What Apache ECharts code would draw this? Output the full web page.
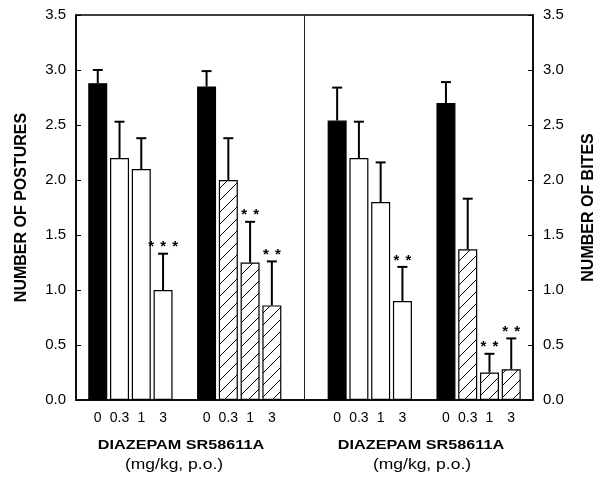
<!DOCTYPE html>
<html><head><meta charset="utf-8">
<script src="https://cdn.jsdelivr.net/npm/echarts@6/dist/echarts.min.js"></script>
<style>html,body{margin:0;padding:0;background:#fff}#c{width:599px;height:477px}</style>
</head><body><div id="c"></div>
<script>
// ---- data ----
const doses = ['0', '0.3', '1', '3'];
const yMin = 0, yMax = 3.5, yStep = 0.5;

const posturesDiazepam    = [2.88, 2.20, 2.10, 1.00];
const posturesDiazepamSem = [0.12, 0.33, 0.28, 0.33];
const posturesDiazepamSig = ['', '', '', '***'];

const posturesSR    = [2.85, 2.00, 1.25, 0.86];
const posturesSRSem = [0.14, 0.38, 0.37, 0.40];
const posturesSRSig = ['', '', '**', '**'];

const bitesDiazepam    = [2.54, 2.20, 1.80, 0.90];
const bitesDiazepamSem = [0.30, 0.33, 0.36, 0.31];
const bitesDiazepamSig = ['', '', '', '**'];

const bitesSR    = [2.70, 1.37, 0.25, 0.28];
const bitesSRSem = [0.19, 0.46, 0.17, 0.28];
const bitesSRSig = ['', '', '**', '**'];

const leftTitle = 'NUMBER OF POSTURES';
const rightTitle = 'NUMBER OF BITES';
const drugLabel = 'DIAZEPAM SR58611A';
const unitLabel = '(mg/kg, p.o.)';

// ---- build slots (spacers are empty categories) ----
const groups = [
  {kind: 'diazepam', m: posturesDiazepam, s: posturesDiazepamSem, sig: posturesDiazepamSig},
  {kind: 'sr', m: posturesSR, s: posturesSRSem, sig: posturesSRSig},
  {kind: 'diazepam', m: bitesDiazepam, s: bitesDiazepamSem, sig: bitesDiazepamSig},
  {kind: 'sr', m: bitesSR, s: bitesSRSem, sig: bitesSRSig}
];
const gapsBefore = [1, 1, 2, 1];
const gapsAfter = 1;
const panelBreakGroup = 2;

const labels = [], controlData = [], diazData = [], srData = [], errData = [];
let dividerSlots = [];
function pushGap() { labels.push(''); controlData.push('-'); diazData.push('-'); srData.push('-'); }
groups.forEach((g, gi) => {
  const startGap = labels.length;
  for (let k = 0; k < gapsBefore[gi]; k++) pushGap();
  if (gi === panelBreakGroup) dividerSlots = [startGap, labels.length - 1];
  g.m.forEach((v, i) => {
    const idx = labels.length;
    labels.push(doses[i]);
    controlData.push(i === 0 ? v : '-');
    diazData.push(i > 0 && g.kind === 'diazepam' ? v : '-');
    srData.push(i > 0 && g.kind === 'sr' ? v : '-');
    errData.push([idx, v, v + g.s[i], g.sig[i]]);
  });
});
for (let k = 0; k < gapsAfter; k++) pushGap();

// ---- hatch pattern ----
function makeHatch() {
  const c = document.createElement('canvas');
  c.width = 12; c.height = 12;
  const g = c.getContext('2d');
  g.fillStyle = '#fff'; g.fillRect(0, 0, 12, 12);
  g.strokeStyle = '#000'; g.lineWidth = 1;
  g.beginPath();
  g.moveTo(-12, 12); g.lineTo(0, 0);
  g.moveTo(0, 12); g.lineTo(12, 0);
  g.moveTo(12, 12); g.lineTo(24, 0);
  g.stroke();
  return c;
}

const FONT = '"Liberation Sans", Arial, Helvetica, sans-serif';
const chart = echarts.init(document.getElementById('c'), null, {renderer: 'canvas'});

const yAxisBase = {
  type: 'value', min: yMin, max: yMax, interval: yStep,
  axisLine: {show: true, lineStyle: {color: '#000', width: 1.5}},
  axisTick: {show: true, inside: true, length: 5, lineStyle: {color: '#000', width: 1}},
  axisLabel: {color: '#000', fontSize: 15, fontFamily: FONT, margin: 10, formatter: v => v.toFixed(1)},
  splitLine: {show: false}
};

const barBase = {type: 'bar', barWidth: 19, barGap: '-100%'};

chart.setOption({
  backgroundColor: '#fff',
  animation: false,
  grid: {left: 76, right: 66, top: 15, bottom: 77, show: true, borderColor: '#000', borderWidth: 1.5, containLabel: false},
  xAxis: {
    type: 'category', data: labels, boundaryGap: false,
    axisLine: {show: true, lineStyle: {color: '#000', width: 1.5}},
    axisTick: {show: false},
    axisLabel: {interval: 0, color: '#000', fontSize: 14, fontFamily: FONT, margin: 11, hideOverlap: false},
    splitLine: {show: false}
  },
  yAxis: [
    Object.assign({}, yAxisBase, {position: 'left'}),
    Object.assign({}, yAxisBase, {position: 'right'})
  ],
  series: [
    Object.assign({}, barBase, {name: 'control', data: controlData, itemStyle: {color: '#000', borderColor: '#000', borderWidth: 1.2}}),
    Object.assign({}, barBase, {name: 'diazepam', data: diazData, itemStyle: {color: '#fff', borderColor: '#000', borderWidth: 1.2}}),
    Object.assign({}, barBase, {name: 'sr', data: srData, itemStyle: {color: {image: makeHatch(), repeat: 'repeat'}, borderColor: '#000', borderWidth: 1.2}}),
    {
      type: 'custom', name: 'sem', data: errData, z: 5, clip: false,
      encode: {x: 0, y: 1},
      renderItem(params, api) {
        const x = api.value(0), m = api.value(1), t = api.value(2);
        const sig = errData[params.dataIndex][3];
        const p0 = api.coord([x, m]), p1 = api.coord([x, t]);
        const ch = [
          {type: 'line', shape: {x1: p0[0], y1: p0[1], x2: p1[0], y2: p1[1]}, style: {stroke: '#000', lineWidth: 2}},
          {type: 'line', shape: {x1: p1[0] - 5, y1: p1[1], x2: p1[0] + 5, y2: p1[1]}, style: {stroke: '#000', lineWidth: 2}}
        ];
        const n = sig ? sig.length : 0;
        for (let j = 0; j < n; j++) {
          ch.push({type: 'text', x: p1[0] + (j - (n - 1) / 2) * 12, y: p1[1] + 1,
            style: {text: '*', font: 'bold 15px ' + FONT, fill: '#000', align: 'center', verticalAlign: 'bottom'}});
        }
        return {type: 'group', children: ch};
      }
    }
  ]
});

// divider between the two panels, and text titles
const pxA = chart.convertToPixel({xAxisIndex: 0}, dividerSlots[0]);
const pxB = chart.convertToPixel({xAxisIndex: 0}, dividerSlots[1]);
const yTopPx = chart.convertToPixel({yAxisIndex: 0}, yMax);
const yBotPx = chart.convertToPixel({yAxisIndex: 0}, yMin);
const divX = (pxA + pxB) / 2;
const midY = (yTopPx + yBotPx) / 2;
chart.setOption({
  graphic: [
    {type: 'line', shape: {x1: divX, y1: yTopPx, x2: divX, y2: yBotPx}, style: {stroke: '#222', lineWidth: 1}, z: 10},
    {type: 'text', x: 22, y: midY, rotation: Math.PI / 2,
      style: {text: leftTitle, font: 'bold 16px ' + FONT, fill: '#000', align: 'center', verticalAlign: 'middle'}},
    {type: 'text', x: 589, y: midY, rotation: Math.PI / 2,
      style: {text: rightTitle, font: 'bold 16px ' + FONT, fill: '#000', align: 'center', verticalAlign: 'middle'}},
    {type: 'text', x: 181, y: 445, scaleX: 1.2,
      style: {text: drugLabel, font: 'bold 13.5px ' + FONT, fill: '#000', align: 'center', verticalAlign: 'middle'}},
    {type: 'text', x: 421, y: 445, scaleX: 1.2,
      style: {text: drugLabel, font: 'bold 13.5px ' + FONT, fill: '#000', align: 'center', verticalAlign: 'middle'}},
    {type: 'text', x: 174, y: 465, scaleX: 1.25,
      style: {text: unitLabel, font: '14px ' + FONT, fill: '#000', align: 'center', verticalAlign: 'middle'}},
    {type: 'text', x: 422, y: 465, scaleX: 1.25,
      style: {text: unitLabel, font: '14px ' + FONT, fill: '#000', align: 'center', verticalAlign: 'middle'}}
  ]
});
</script>
</body></html>
